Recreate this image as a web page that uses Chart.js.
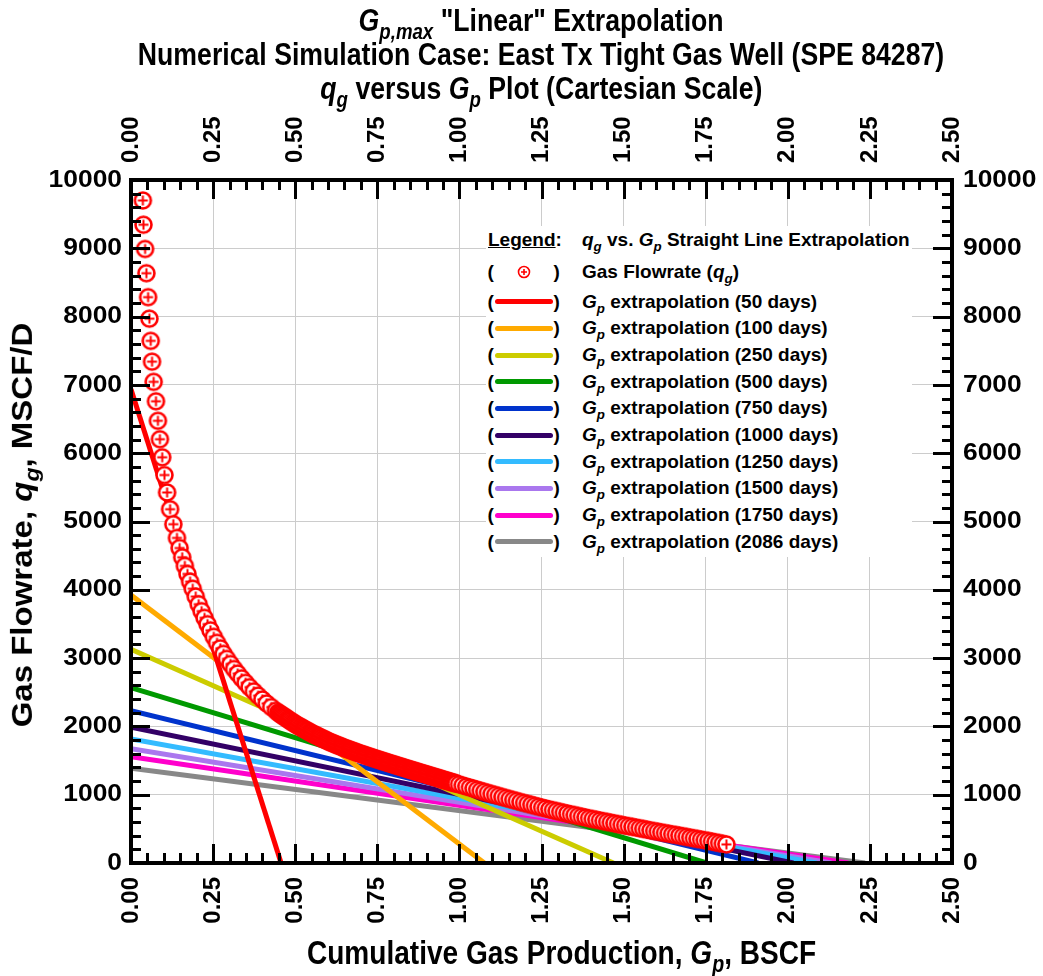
<!DOCTYPE html>
<html><head><meta charset="utf-8">
<script src="https://cdn.jsdelivr.net/npm/chart.js@4.4.1/dist/chart.umd.min.js"></script>
<style>
html,body{margin:0;padding:0;background:#fff;overflow:hidden;}
#wrap{position:relative;width:1043px;height:976px;}
#c{position:absolute;left:0;top:0;}
.t{position:absolute;white-space:nowrap;text-align:center;font-family:"Liberation Sans",Arial,sans-serif;font-weight:bold;color:#000;}
.t span{display:inline-block;}
.t i,#legend i{font-style:italic;}
sub{font-size:70%;vertical-align:-0.35em;line-height:0;}
#legend{position:absolute;left:486px;top:226px;width:426px;height:331px;background:#fff;font-family:"Liberation Sans",Arial,sans-serif;font-weight:bold;font-size:19px;color:#000;}
#legend .el{position:absolute;line-height:26px;height:26px;white-space:nowrap;}
#legend .sw{position:absolute;height:5px;border-radius:3px;}
</style></head>
<body><div id="wrap">
<canvas id="c" width="1043" height="976"></canvas>
<div class="t" style="left:41px;width:1000px;top:2px;font-size:32px;line-height:36px"><span style="transform:scaleX(0.833)"><i>G<sub>p,max</sub></i> "Linear" Extrapolation</span></div>
<div class="t" style="left:41px;width:1000px;top:36px;font-size:32px;line-height:36px"><span style="transform:scaleX(0.833)">Numerical Simulation Case: East Tx Tight Gas Well (SPE 84287)</span></div>
<div class="t" style="left:41px;width:1000px;top:70px;font-size:32px;line-height:36px"><span style="transform:scaleX(0.833)"><i>q<sub>g</sub></i> versus <i>G<sub>p</sub></i> Plot (Cartesian Scale)</span></div>
<div class="t" style="left:62px;width:1000px;top:935px;font-size:33px;line-height:36px"><span style="transform:scaleX(0.85)">Cumulative Gas Production, <i>G<sub>p</sub></i>, BSCF</span></div>
<div class="t" style="left:-278px;width:600px;top:507px;font-size:33px;line-height:36px;transform:rotate(-90deg) scale(1,0.9);">Gas Flowrate, <i>q<sub>g</sub></i>, MSCF/D</div>
<div id="legend"></div>
</div>
<script>
// ---- data ----
const gasGp = [
0.036,0.038,0.043,0.047,0.052,0.056,0.060,0.064,0.069,0.076,0.082,0.088,0.095,0.102,0.110,0.119,0.129,
0.140,0.148,0.156,0.164,0.172,0.180,0.188,0.197,0.206,0.215,0.224,0.233,0.242,0.252,0.262,0.272,0.282,0.292,0.303,0.314,0.325,0.337,0.349,0.361,0.374,0.387,0.400,0.413,0.427,0.441,
0.448,0.4515,0.455,0.4585,0.462,0.4655,0.469,0.4725,0.476,0.4795,0.483,0.4865,0.490,0.4935,0.497,0.5005,0.504,0.5075,0.511,0.5145,0.518,0.5215,0.525,0.5285,0.532,0.5355,0.539,0.5425,0.546,0.5495,0.553,0.5565,0.560,0.5635,0.567,0.5705,0.574,0.5775,0.581,0.5845,0.588,0.5915,0.595,0.5985,0.602,0.6055,0.609,0.6125,0.616,0.6195,0.623,0.6265,0.630,0.6335,0.637,0.6405,0.644,0.6475,0.651,0.6545,0.658,0.6615,0.665,0.6685,0.672,0.6755,0.679,0.6825,0.686,0.6895,0.693,0.6965,0.700,0.7035,0.707,0.7105,0.714,0.7175,0.721,0.7245,0.728,0.7315,0.735,0.7385,0.742,0.7455,0.749,0.7525,0.756,0.7595,0.763,0.7665,0.770,0.7735,0.777,0.7805,0.784,0.7875,0.791,0.7945,0.798,0.8015,0.805,0.8085,0.812,0.8155,0.819,0.8225,0.826,0.8295,0.833,0.8365,0.840,0.8435,0.847,0.8505,0.854,0.8575,0.861,0.8645,0.868,0.8715,0.875,0.8785,0.882,0.8855,0.889,0.8925,0.896,0.8995,0.903,0.9065,0.910,0.9135,0.917,0.9205,0.924,0.9275,0.931,0.9345,0.938,0.9415,0.945,0.9485,0.952,0.9555,0.959,0.9625,0.966,0.9695,0.973,0.9765,0.980,0.9835,0.987,0.9905,
0.999,1.010,1.021,1.032,1.043,1.054,1.065,1.076,1.087,1.098,1.109,1.120,1.131,1.142,1.153,1.164,1.175,1.186,1.197,1.208,1.219,1.230,1.241,1.252,1.263,1.274,1.285,1.296,1.307,1.318,1.329,1.340,1.351,1.362,1.373,1.384,1.395,1.406,1.417,1.428,1.439,1.450,1.461,1.472,1.483,1.494,1.505,1.516,1.527,1.538,1.549,1.560,1.571,1.582,1.593,1.604,1.615,1.626,1.637,1.648,1.659,1.670,1.681,1.692,1.703,1.714,1.725,1.736,1.747,1.758,1.769,1.780,1.791,1.802,1.813
];
const gasQg = [
9700,9345,8990,8635,8285,7970,7645,7340,7045,6760,6475,6205,5940,5680,5425,5180,4960,
4760,4612,4476,4350,4232,4120,4016,3901,3789,3687,3589,3497,3406,3312,3224,3143,3062,2989,2913,2841,2774,2704,2639,2575,2513,2451,2394,2337,2283,2230,
2203,2191,2179,2168,2157,2146,2134,2123,2112,2100,2089,2078,2067,2056,2045,2034,2024,2014,2005,1996,1986,1977,1968,1958,1949,1940,1930,1920,1911,1902,1893,1885,1877,1869,1861,1852,1844,1836,1828,1820,1812,1804,1796,1788,1779,1772,1764,1758,1751,1744,1737,1730,1724,1717,1710,1704,1697,1690,1683,1677,1671,1665,1659,1653,1647,1641,1635,1628,1622,1616,1610,1604,1598,1592,1587,1582,1576,1570,1564,1558,1553,1548,1542,1536,1531,1526,1520,1514,1509,1504,1498,1493,1488,1482,1477,1472,1466,1461,1456,1450,1445,1440,1435,1430,1424,1419,1414,1409,1404,1398,1393,1388,1383,1378,1372,1367,1362,1357,1352,1347,1342,1336,1331,1326,1321,1316,1311,1306,1301,1296,1291,1286,1280,1275,1270,1265,1260,1255,1250,1245,1240,1234,1229,1224,1219,1214,1209,1204,1199,1194,1189,1184,1179,1174,1169,1164,
1152,1136,1120,1105,1089,1073,1057,1042,1026,1011,996,981,966,951,937,922,908,893,879,865,852,838,824,810,798,785,773,760,748,735,724,712,701,689,678,667,655,644,634,623,612,602,591,581,570,560,549,539,529,519,509,499,489,478,468,459,449,439,430,420,411,401,392,382,372,363,353,344,334,324,314,303,293,282,272
];
if (gasGp.length !== gasQg.length) throw new Error('length mismatch ' + gasGp.length + ' vs ' + gasQg.length);
const extrapDays = [50,100,250,500,750,1000,1250,1500,1750,2086];
const extrapQgAtZero = [6936,3924,3129,2567,2230,1987,1816,1673,1556,1387];
const extrapGpMax = [0.457,1.076,1.469,1.753,1.910,2.017,2.088,2.133,2.184,2.235];
const xTickValues = [0,0.25,0.5,0.75,1,1.25,1.5,1.75,2,2.25,2.5];
const yTickValues = [0,1000,2000,3000,4000,5000,6000,7000,8000,9000,10000];

// ---- styles ----
const extrapColors = ['#ff0000','#ffaa00','#cccc00','#009900','#0033cc','#330066','#33bbff','#aa77ee','#ff00cc','#888888'];
const tickFont = {family:'"Liberation Sans", Arial, sans-serif', weight:'bold', size:24};

function makeMarker(r, lw, arm){
  const s = Math.ceil(2*r + lw + 2);
  const c = document.createElement('canvas'); c.width = s; c.height = s;
  const g = c.getContext('2d'); const m = s/2;
  g.beginPath(); g.arc(m,m,r,0,2*Math.PI); g.fillStyle='#fff'; g.fill();
  g.lineWidth = lw; g.strokeStyle = '#ff0000'; g.stroke();
  g.beginPath(); g.moveTo(m-arm,m); g.lineTo(m+arm,m); g.moveTo(m,m-arm); g.lineTo(m,m+arm);
  g.lineWidth = 2; g.stroke();
  return c;
}
const marker = makeMarker(8, 2.6, 5);

const datasets = [{
  type:'scatter', label:'Gas Flowrate',
  data: gasGp.map((x,i)=>({x, y: gasQg[i]})),
  pointStyle: marker, pointRadius: 9, showLine:false, xAxisID:'x', yAxisID:'y'
}];
extrapDays.forEach((d,i)=>{
  datasets.push({type:'line', label:'Gp extrapolation ('+d+' days)',
    data:[{x:0,y:extrapQgAtZero[i]},{x:extrapGpMax[i],y:0}],
    borderColor: extrapColors[i], borderWidth:5, pointRadius:0, fill:false,
    borderCapStyle:'butt', xAxisID:'x', yAxisID:'y'});
});

const frame = {
  id:'frame',
  afterDraw(chart){
    const {ctx, chartArea:a, scales} = chart;
    const xs = scales.x, ys = scales.y;
    ctx.save(); ctx.strokeStyle = '#000'; ctx.lineWidth = 3; ctx.lineCap='butt';
    ctx.beginPath();
    for (let i=0;i<=50;i++){
      const px = Math.round(xs.getPixelForValue(i*0.05)) + 0.5; const L = (i%5===0)?19:10;
      ctx.moveTo(px,a.bottom); ctx.lineTo(px,a.bottom-L);
      ctx.moveTo(px,a.top); ctx.lineTo(px,a.top+L);
    }
    for (let i=0;i<=50;i++){
      const py = Math.round(ys.getPixelForValue(i*200)) + 0.5; const L = (i%5===0)?19:10;
      ctx.moveTo(a.left,py); ctx.lineTo(a.left+L,py);
      ctx.moveTo(a.right,py); ctx.lineTo(a.right-L,py);
    }
    ctx.stroke();
    ctx.lineWidth = 4; ctx.strokeRect(a.left, a.top, a.right-a.left, a.bottom-a.top);
    // y tick labels (slightly widened, as in the reference)
    ctx.fillStyle = '#000'; ctx.font = 'bold 24px "Liberation Sans", Arial, sans-serif';
    ctx.textBaseline = 'middle';
    yTickValues.forEach(v=>{
      const py = ys.getPixelForValue(v);
      ctx.save(); ctx.translate(a.left - 9, py); ctx.scale(1.1,1); ctx.textAlign='right'; ctx.fillText(String(v),0,0); ctx.restore();
      ctx.save(); ctx.translate(a.right + 11, py); ctx.scale(1.1,1); ctx.textAlign='left'; ctx.fillText(String(v),0,0); ctx.restore();
    });
    ctx.restore();
  }
};

function xAxis(pos, show, h, pad, off){
  return {type:'linear', position:pos, min:0, max:2.5,
    afterBuildTicks(s){ s.ticks = xTickValues.map(v=>({value:v})); },
    ticks:{autoSkip:false, minRotation:90, maxRotation:90, padding:pad, labelOffset:off, font:tickFont, color:'#000',
      callback:v=>Number(v).toFixed(2)},
    grid:{display:show, color:'#cccccc', lineWidth:1, drawTicks:false},
    border:{display:false},
    afterFit(s){ s.height = h; }};
}
function yAxis(pos, show, w){
  return {type:'linear', position:pos, min:0, max:10000,
    afterBuildTicks(s){ s.ticks = yTickValues.map(v=>({value:v})); },
    ticks:{display:false},
    grid:{display:show, color:'#cccccc', lineWidth:1, drawTicks:false},
    border:{display:false},
    afterFit(s){ s.width = w; }};
}

new Chart(document.getElementById('c'), {
  type:'scatter',
  data:{datasets},
  options:{
    responsive:false, animation:false, devicePixelRatio:1,
    layout:{padding:0},
    plugins:{legend:{display:false}, tooltip:{enabled:false}, title:{display:false}},
    scales:{ x:xAxis('bottom',true,113,14,0), x2:xAxis('top',false,180,17,28.8), y:yAxis('left',true,131), y2:yAxis('right',false,91) }
  },
  plugins:[frame]
});

// ---- legend (HTML text) ----
const lg = document.getElementById('legend');
const rowCenters = [14, 45.7, 75.7, 102.3, 129, 155.7, 182.3, 209, 235.7, 262.3, 289, 315.7];
function el(html, left, cy){ const d=document.createElement('div'); d.className='el'; d.innerHTML=html; d.style.left=left+'px'; d.style.top=(cy-13)+'px'; lg.appendChild(d); return d; }
el('<span style="text-decoration:underline">Legend</span>:', 2, rowCenters[0]);
el('<i>q<sub>g</sub></i> vs. <i>G<sub>p</sub></i> Straight Line Extrapolation', 96, rowCenters[0]);
el('(', 1.5, rowCenters[1]); el(')', 67.5, rowCenters[1]);
const mk = document.createElementNS('http://www.w3.org/2000/svg','svg');
mk.setAttribute('width','14'); mk.setAttribute('height','14');
mk.style.position='absolute'; mk.style.left=(38-7)+'px'; mk.style.top=(rowCenters[1]-7)+'px';
mk.innerHTML='<circle cx="7" cy="7" r="5.5" fill="#fff" stroke="#ff0000" stroke-width="1.6"/><path d="M4 7H10M7 4V10" stroke="#ff0000" stroke-width="1.6"/>';
lg.appendChild(mk);
el('Gas Flowrate (<i>q<sub>g</sub></i>)', 96, rowCenters[1]);
extrapDays.forEach((d,i)=>{
  const cy = rowCenters[i+2];
  el('(', 1.5, cy); el(')', 67.5, cy);
  const sw = document.createElement('div'); sw.className='sw';
  sw.style.left='9px'; sw.style.width='58px'; sw.style.top=(cy-2.5)+'px'; sw.style.background=extrapColors[i];
  lg.appendChild(sw);
  el('<i>G<sub>p</sub></i> extrapolation ('+d+' days)', 96, cy);
});
</script>
</body></html>
